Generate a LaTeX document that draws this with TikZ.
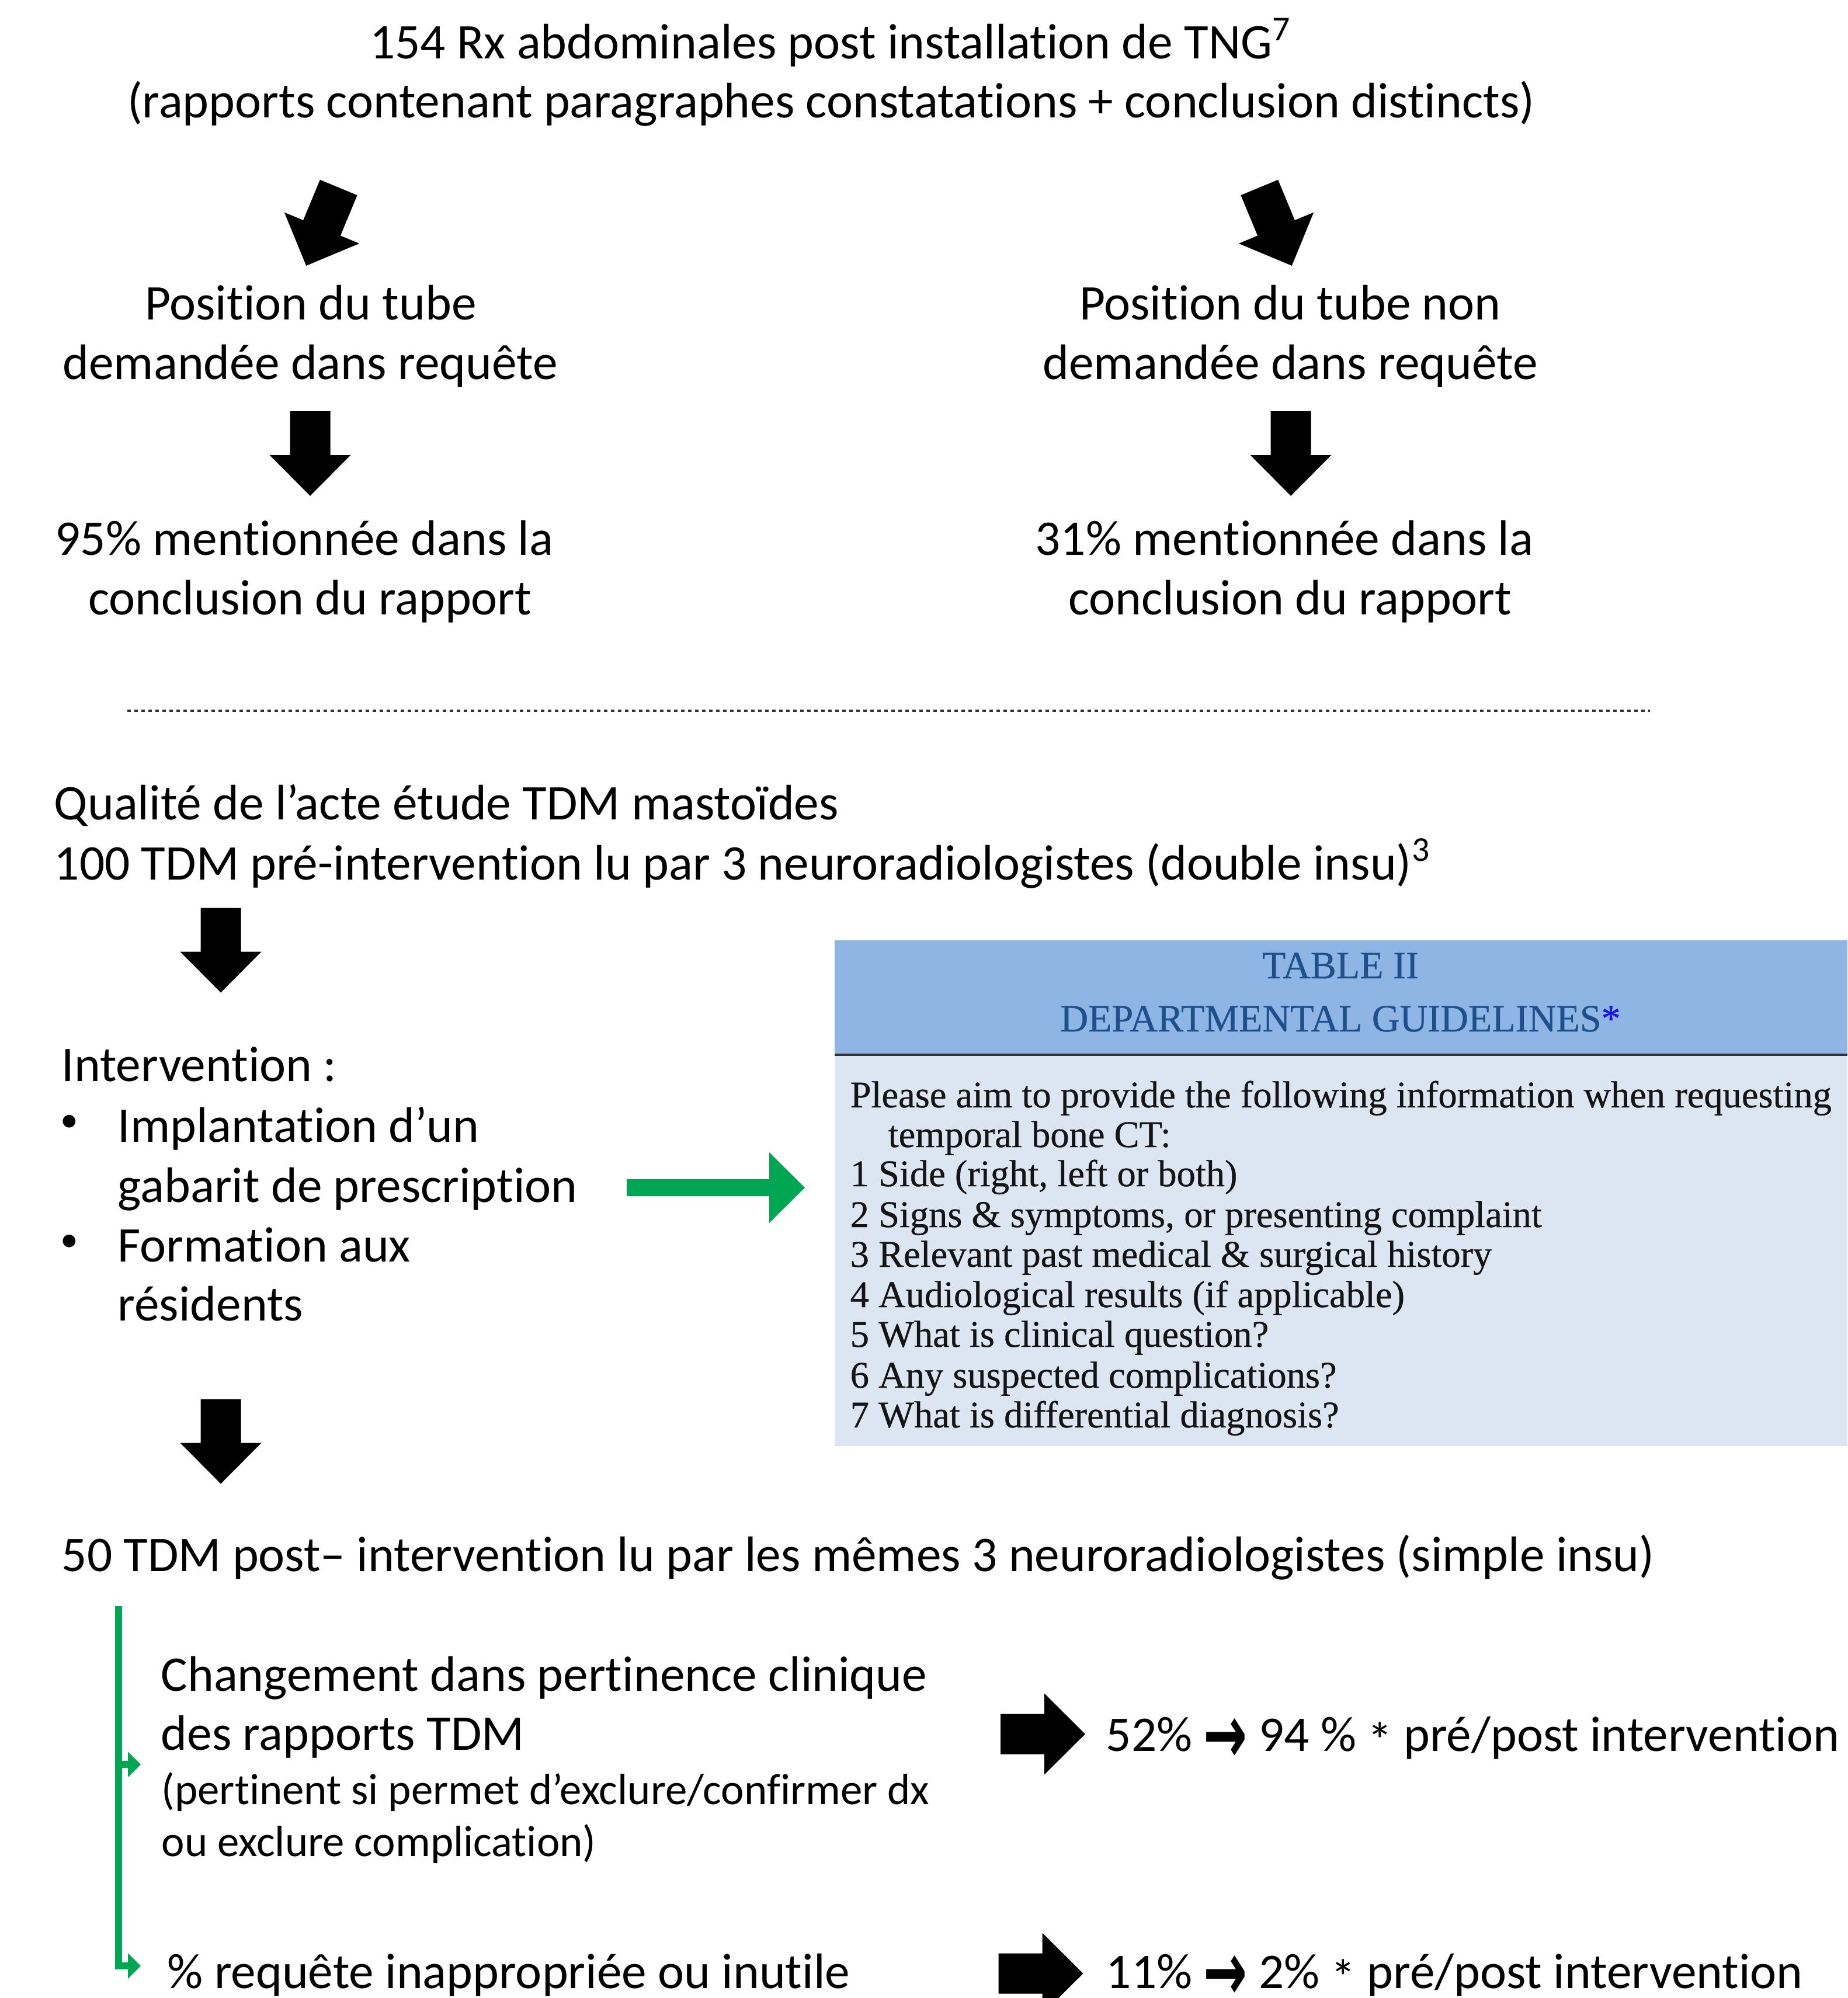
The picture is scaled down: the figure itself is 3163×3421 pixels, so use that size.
\documentclass[tikz,border=0pt]{standalone}
\usepackage{fontspec}
\setmainfont{Carlito}[Ligatures={NoCommon}]
\newfontfamily\serifT{Liberation Serif}[FakeBold=0.5]
\newfontfamily\symf{DejaVu Sans}
\definecolor{kgreen}{RGB}{0,166,81}
\definecolor{hdrblue}{RGB}{142,181,227}
\definecolor{bodyblue}{RGB}{220,230,242}
\definecolor{hdrtext}{RGB}{30,80,140}
\definecolor{starblue}{RGB}{20,20,230}
\definecolor{rulegray}{RGB}{50,50,50}
\newcommand{\bigarr}{\raisebox{-2.0mm}{\scalebox{1.05}[1.65]{\symf\bfseries →}}}
\newcommand{\lowstar}{\raisebox{-1.1mm}{*}}
\tikzset{
  blockarrow/.pic={\fill[black] (-34.5,-72.5) -- (34.5,-72.5) -- (34.5,2.5) -- (69.5,2.5) -- (0,72.5) -- (-69.5,2.5) -- (-34.5,2.5) -- cycle;},
  txt/.style={inner sep=0pt, font=\fontsize{24.3}{29.6}\selectfont, anchor=base},
  txtl/.style={txt, anchor=base west},
  bul/.style={inner sep=0pt, font=\fontsize{17.5}{20}\selectfont, anchor=center},
  smalltxt/.style={inner sep=0pt, font=\fontsize{21.3}{26}\selectfont, anchor=base west},
  tblhead/.style={inner sep=0pt, font=\serifT\fontsize{18.8}{20}\selectfont, text=hdrtext, anchor=base},
  tblbody/.style={inner sep=0pt, font=\serifT\fontsize{18.35}{20}\selectfont, text=black!92, anchor=base west},
  greenline/.style={draw=kgreen, line width=1.2mm},
  dotline/.style={draw=rulegray, line width=0.45mm, dash pattern=on 0.6mm off 0.6mm}
}
\begin{document}
\begin{tikzpicture}[x=0.1mm,y=-0.1mm]
\useasboundingbox (0,0) rectangle (3163,3421);
\fill[white] (0,0) rectangle (3163,3421);

% title
\node[txt] (t1) at (1422,101) {154 Rx abdominales post installation de TNG\textsuperscript{7}};
\node[txt] (t2) at (1423,202) {(rapports contenant paragraphes constatations + conclusion distincts)};

% diagonal arrows
\pic[rotate=-22.5] at (552,388) {blockarrow};
\pic[rotate=22.5] at (2184,388) {blockarrow};

% left column
\node[txt] (l1a) at (532,548) {Position du tube};
\node[txt] (l1b) at (531,650) {demandée dans requête};
\pic at (531,776.5) {blockarrow};
\node[txt] (l2a) at (521,950) {95\% mentionnée dans la};
\node[txt] (l2b) at (531,1052) {conclusion du rapport};

% right column
\node[txt] (r1a) at (2209,548) {Position du tube non};
\node[txt] (r1b) at (2209,650) {demandée dans requête};
\pic at (2210,776.5) {blockarrow};
\node[txt] (r2a) at (2199,950) {31\% mentionnée dans la};
\node[txt] (r2b) at (2209,1052) {conclusion du rapport};

% dotted separator
\coordinate (dl) at (218,1217);
\coordinate (dr) at (2825,1217);
\draw[dotline] (dl) -- (dr);

% lower part
\node[txtl] (q1) at (92,1403) {Qualité de l’acte étude TDM mastoïdes};
\node[txtl] (q2) at (92,1506) {100 TDM pré-intervention lu par 3 neuroradiologistes (double insu)\textsuperscript{3}};
\pic at (378,1627) {blockarrow};

\node[txtl] (iv) at (105,1851) {Intervention :};
\node[bul] (b1) at (119,1923) {•};
\node[txtl] (i1) at (201,1955) {Implantation d’un};
\node[txtl] (i2) at (201,2058) {gabarit de prescription};
\node[bul] (b2) at (119,2128) {•};
\node[txtl] (i3) at (201,2160) {Formation aux};
\node[txtl] (i4) at (201,2261) {résidents};

% green arrow to table
\fill[kgreen] (1073,2019) -- (1317,2019) -- (1317,1973) -- (1378,2033.5) -- (1317,2094) -- (1317,2048) -- (1073,2048) -- cycle;

% table
\fill[bodyblue] (1429,1610) rectangle (3163,2476);
\fill[hdrblue] (1429,1610) rectangle (3163,1806);
\draw[rulegray, line width=0.45mm] (1429,1806) -- (3163,1806);
\node[tblhead] (th1) at (2295,1675) {TABLE II};
\node[tblhead] (th2) at (2295,1766) {DEPARTMENTAL GUIDELINES{\color{starblue}*}};
\node[tblbody] (tb0) at (1455,1896) {Please aim to provide the following information when requesting};
\node[tblbody] (tb0b) at (1520,1964) {temporal bone CT:};
\node[tblbody] (tb1) at (1455,2031) {1 Side (right, left or both)};
\node[tblbody] (tb2) at (1455,2101) {2 Signs \& symptoms, or presenting complaint};
\node[tblbody] (tb3) at (1455,2169) {3 Relevant past medical \& surgical history};
\node[tblbody] (tb4) at (1455,2238) {4 Audiological results (if applicable)};
\node[tblbody] (tb5) at (1455,2306) {5 What is clinical question?};
\node[tblbody] (tb6) at (1455,2376) {6 Any suspected complications?};
\node[tblbody] (tb7) at (1455,2444) {7 What is differential diagnosis?};

\pic at (378,2468) {blockarrow};
\node[txtl] (p50) at (105,2690) {50 TDM post– intervention lu par les mêmes 3 neuroradiologistes (simple insu)};

% green bracket
\coordinate (gtop) at (203,2750);
\coordinate (gmid) at (203,3021);
\coordinate (gbot) at (203,3366);
\draw[greenline] (gtop) -- (gbot) -- ++(17,0);
\draw[greenline] (gmid) -- ++(17,0);
\fill[kgreen] (219,2999) -- (241,3021) -- (219,3043) -- cycle;
\fill[kgreen] (219,3344) -- (241,3366) -- (219,3388) -- cycle;

\node[txtl] (c1) at (275,2895) {Changement dans pertinence clinique};
\node[txtl] (c2) at (275,2996) {des rapports TDM};
\node[smalltxt] (c3) at (276,3089) {(pertinent si permet d’exclure/confirmer dx};
\node[smalltxt] (c4) at (276,3178) {ou exclure complication)};
\node[txtl] (c5) at (286,3404) {\% requête inappropriée ou inutile};

\pic[rotate=90] at (1785.5,2969) {blockarrow};
\node[txtl] (res1) at (1893,2998) {52\% \bigarr{} 94 \% \lowstar{} pré/post intervention};
\pic[rotate=90] at (1782,3379) {blockarrow};
\node[txtl] (res2) at (1893,3404) {11\% \bigarr{} 2\% \lowstar{} pré/post intervention};
\end{tikzpicture}
\end{document}
